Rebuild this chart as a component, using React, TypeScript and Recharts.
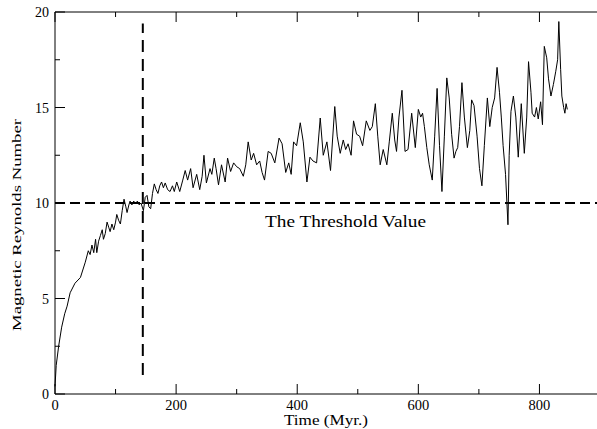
import React from 'react';
import { LineChart, Line, XAxis, YAxis, ReferenceLine } from 'recharts';

// values: time in Myr, magnetic Reynolds number
const times = [
  0, 2, 6, 11, 16, 20, 25, 33, 42, 50, 55, 58, 61, 64, 67, 69, 72, 75, 78, 80,
  83, 86, 89, 91, 94, 97, 100, 102, 105, 108, 111, 114, 117, 119, 122, 124, 127, 130, 133, 136,
  139, 142, 146, 149, 152, 155, 158, 161, 164, 167, 170, 173, 176, 179, 182, 186, 190, 194, 197, 201,
  206, 211, 215, 219, 224, 228, 234, 239, 243, 246, 250, 256, 259, 263, 266, 270, 275, 281, 285, 290,
  295, 300, 305, 311, 315, 319, 324, 328, 333, 338, 342, 346, 352, 357, 363, 370, 375, 381, 386, 390,
  394, 399, 405, 410, 416, 421, 426, 432, 438, 443, 449, 455, 462, 466, 471, 476, 480, 484, 489, 493,
  498, 503, 508, 514, 520, 524, 529, 533, 537, 542, 548, 552, 557, 561, 564, 568, 573, 578, 583, 589,
  595, 600, 604, 607, 610, 614, 618, 623, 627, 631, 635, 639, 643, 647, 651, 655, 659, 662, 665, 668,
  672, 676, 681, 685, 688, 692, 697, 701, 705, 709, 714, 718, 722, 726, 730, 734, 737, 740, 744, 748,
  750, 753, 757, 761, 765, 770, 775, 779, 782, 786, 788, 792, 795, 798, 802, 805, 808, 812, 815, 819,
  823, 827, 830, 832, 835, 837, 840, 842, 844, 846,
];
const reynolds = [
  0.4, 1.5, 2.5, 3.5, 4.2, 4.6, 5.3, 5.8, 6.1, 6.9, 7.5, 7.3, 7.8, 7.4, 8.1, 7.4, 8.0, 8.3, 8.6, 8.1,
  8.4, 9.0, 8.7, 8.5, 8.9, 8.6, 9.0, 9.4, 9.1, 8.9, 9.6, 10.2, 9.8, 9.5, 9.9, 10.1, 9.9, 10.1, 9.95, 10.1,
  9.9, 10.0, 9.6, 10.3, 10.4, 9.8, 9.7, 10.5, 11.0, 10.7, 10.5, 10.9, 11.1, 10.8, 11.05, 10.7, 10.6, 10.9, 10.6, 11.1,
  10.6, 11.2, 11.7, 11.2, 11.8, 10.8, 11.5, 10.7, 11.4, 12.5, 11.05, 11.8, 11.5, 12.35, 11.8, 10.95, 12.0, 11.1, 12.35, 11.65,
  12.1, 11.9, 11.8, 11.4, 12.0, 13.2, 12.25, 12.6, 12.0, 12.2, 11.6, 11.2, 12.7, 12.6, 12.1, 13.4, 13.1, 11.6, 12.1, 11.5,
  13.2, 13.0, 14.2, 13.2, 11.1, 12.4, 12.2, 12.1, 14.45, 12.5, 13.2, 11.7, 15.05, 13.5, 12.6, 13.3, 12.8, 13.1, 12.5, 14.3,
  13.6, 13.5, 13.0, 14.3, 13.8, 14.0, 15.2, 13.5, 12.0, 12.8, 12.0, 13.2, 14.7, 13.3, 12.7, 14.5, 15.9, 12.7, 12.8, 14.7,
  12.9, 14.9, 14.5, 14.7, 14.0, 12.9, 12.0, 11.2, 13.5, 16.0, 13.0, 10.6, 13.5, 16.55, 15.5, 13.6, 12.35, 12.7, 12.9, 14.0,
  16.3, 14.5, 12.9, 13.8, 15.4, 15.1, 13.5, 11.8, 10.9, 13.0, 15.5, 14.0, 15.0, 15.5, 17.1, 15.8, 14.5, 13.0, 11.5, 8.86,
  12.5, 14.8, 15.6, 14.5, 12.4, 15.2, 12.6, 14.5, 17.4, 15.8, 14.7, 14.5, 15.0, 14.4, 15.3, 14.1, 18.2, 17.6, 16.5, 15.6,
  16.2, 16.9, 17.5, 19.5, 17.0, 15.6, 15.0, 14.7, 15.2, 14.9,
];

const xTicks = [0, 100, 200, 300, 400, 500, 600, 700, 800, 900];
const xLabelTicks = [0, 200, 400, 600, 800];
const yTicks = [0, 2.5, 5, 7.5, 10, 12.5, 15, 17.5, 20];
const yLabelTicks = [0, 5, 10, 15, 20];

const threshold = 10;
const markerTime = 145;
const markerFrom = 1;
const markerTo = 19.4;

const data = times.map((t, i) => ({ t, rm: reynolds[i] }));

const font = '"Liberation Serif", "Times New Roman", serif';
const serif = { fontFamily: font };

const BottomTick = (props: any) => {
  const { x, y, payload } = props;
  const major = xLabelTicks.includes(payload.value);
  return (
    <g>
      <line x1={x} x2={x} y1={y} y2={y - (major ? 10 : 5)} stroke="#000" />
      {major && (
        <text x={x} y={y + 16} textAnchor="middle" fontSize={14.5} style={serif} fill="#000">
          {payload.value}
        </text>
      )}
    </g>
  );
};

const TopTick = (props: any) => {
  const { x, y, payload } = props;
  const major = xLabelTicks.includes(payload.value);
  return <line x1={x} x2={x} y1={y} y2={y + (major ? 10 : 5)} stroke="#000" />;
};

const LeftTick = (props: any) => {
  const { x, y, payload } = props;
  const major = yLabelTicks.includes(payload.value);
  return (
    <g>
      <line x1={x} x2={x + (major ? 10 : 5)} y1={y} y2={y} stroke="#000" />
      {major && (
        <text x={x - 6} y={y + 5} textAnchor="end" fontSize={14} style={serif} fill="#000">
          {payload.value}
        </text>
      )}
    </g>
  );
};

const RightTick = (props: any) => {
  const { x, y, payload } = props;
  const major = yLabelTicks.includes(payload.value);
  return <line x1={x} x2={x - (major ? 10 : 5)} y1={y} y2={y} stroke="#000" />;
};

const App: React.FC = () => {
  return (
    <div style={{ position: 'absolute', left: 0, top: 0, width: 597, height: 429, overflow: 'hidden', background: '#fff' }}>
      <LineChart width={600} height={429} data={data} margin={{ top: 0, right: 0, bottom: 0, left: 0 }}>
        <XAxis
          xAxisId="bottom"
          dataKey="t"
          type="number"
          domain={[0, 900]}
          ticks={xTicks}
          interval={0}
          height={35}
          tickSize={0}
          tickMargin={0}
          tick={<BottomTick />}
          axisLine={{ stroke: '#000' }}
          label={() => (
            <text x={326} y={425} textAnchor="middle" fontSize={14} style={serif} fill="#000"
              textLength={84} lengthAdjust="spacingAndGlyphs">
              Time (Myr.)
            </text>
          )}
        />
        <XAxis
          xAxisId="top"
          orientation="top"
          dataKey="t"
          type="number"
          domain={[0, 900]}
          ticks={xTicks}
          interval={0}
          height={12}
          tickSize={0}
          tickMargin={0}
          tick={<TopTick />}
          axisLine={{ stroke: '#000' }}
        />
        <YAxis
          yAxisId="left"
          type="number"
          domain={[0, 20]}
          ticks={yTicks}
          interval={0}
          width={55}
          tickSize={0}
          tickMargin={0}
          tick={<LeftTick />}
          axisLine={{ stroke: '#000' }}
          label={() => (
            <text
              x={21}
              y={225}
              transform="rotate(-90 21 225)"
              textAnchor="middle"
              fontSize={13.5}
              style={serif}
              fill="#000"
              textLength={212}
              lengthAdjust="spacingAndGlyphs"
            >
              Magnetic Reynolds Number
            </text>
          )}
        />
        <YAxis
          yAxisId="right"
          orientation="right"
          type="number"
          domain={[0, 20]}
          ticks={yTicks}
          interval={0}
          width={0}
          tickSize={0}
          tickMargin={0}
          tick={<RightTick />}
          axisLine={false}
        />
        <ReferenceLine
          xAxisId="bottom"
          yAxisId="left"
          y={threshold}
          stroke="#000"
          strokeWidth={2}
          strokeDasharray="10 5"
          label={() => (
            <text x={345.5} y={227} textAnchor="middle" fontSize={16} style={serif} fill="#000"
              textLength={161} lengthAdjust="spacingAndGlyphs">
              The Threshold Value
            </text>
          )}
        />
        <ReferenceLine
          xAxisId="bottom"
          yAxisId="left"
          segment={[
            { x: markerTime, y: markerFrom },
            { x: markerTime, y: markerTo },
          ]}
          stroke="#000"
          strokeWidth={2}
          strokeDasharray="12 7"
        />
        <Line
          xAxisId="bottom"
          yAxisId="left"
          dataKey="rm"
          type="linear"
          dot={false}
          stroke="#000"
          strokeWidth={1}
          isAnimationActive={false}
        />
      </LineChart>
    </div>
  );
};

export default App;
